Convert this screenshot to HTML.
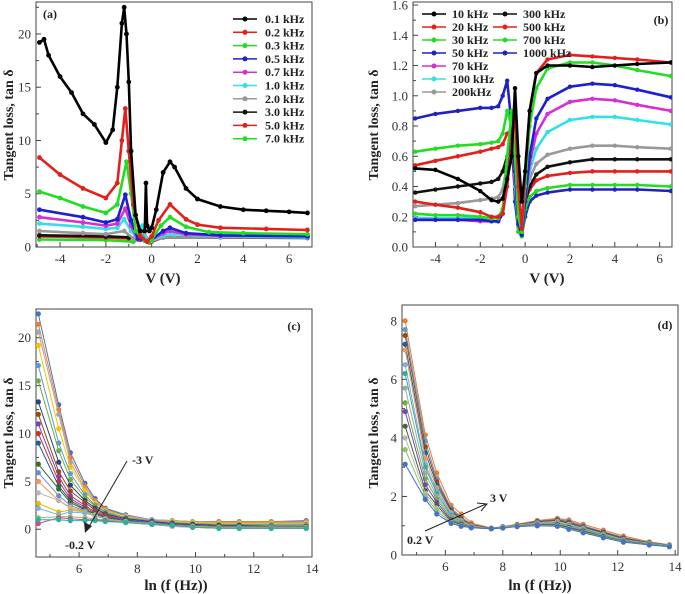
<!DOCTYPE html>
<html><head><meta charset="utf-8"><style>
html,body{margin:0;padding:0;background:#fff;}
svg{display:block;font-family:"Liberation Serif",serif;}
</style></head><body>
<svg id="fig" width="685" height="594" viewBox="0 0 685 594" xmlns="http://www.w3.org/2000/svg"></svg>
<script>
// ---------- Panel (a) data ----------
const aNames = ["0.1 kHz","0.2 kHz","0.3 kHz","0.5 kHz","0.7 kHz","1.0 kHz","2.0 kHz","3.0 kHz","5.0 kHz","7.0 kHz"];
const aColors = ["#000000","#e3201b","#22dd22","#1f1fd0","#d52fd5","#33e0e6","#999999","#111111","#e3201b","#22dd22"];
const aV0 = [-4.9,-4.7,-4.5,-4,-3.5,-3,-2.5,-2,-1.7,-1.5,-1.3,-1.2,-1.1,-1,-0.9,-0.7,-0.5,-0.3,-0.25,-0.2,-0.1,0,0.2,0.5,0.8,1,1.5,2,3,4,5,6,6.8];
const aY0 = [19.2,19.5,18,16,14.5,12.5,11.5,9.8,11,15,21,22.5,20,15.5,9,3,1.5,1.5,6,2,1.5,1.8,3.5,7,8,7.5,5.5,4.5,3.8,3.5,3.4,3.3,3.2];
const aV1 = [-4.9,-4,-3,-2,-1.5,-1.3,-1.15,-1,-0.8,-0.5,-0.2,0,0.3,0.8,1.5,2,3,5,6.8];
const aY1 = [8.4,6.8,5.5,4.6,6,10,13,9,4,1,0.5,1,2.5,4,2.6,2.1,1.8,1.7,1.6];
const aV2 = [-4.9,-4,-3,-2,-1.5,-1.1,-0.9,-0.7,-0.3,0,0.4,0.8,1.5,2.5,4,6.8];
const aY2 = [5.2,4.6,3.8,3.2,4,8,5,1.5,0.6,0.7,2,2.8,1.9,1.4,1.3,1.2];
const aV3 = [-4.9,-3,-2,-1.5,-1.15,-0.9,-0.6,-0.3,0,0.5,0.8,1.5,3,6.8];
const aY3 = [3.5,2.8,2.3,2.6,4.9,2.5,0.8,0.6,0.7,1.5,1.8,1.3,1.1,1.0];
const aV4 = [-4.9,-3,-2,-1.5,-1.15,-0.9,-0.6,-0.3,0,0.5,0.8,1.5,3,6.8];
const aY4 = [2.8,2.3,2.0,2.2,3.6,2,0.7,0.6,0.7,1.3,1.5,1.2,1.05,1.0];
const aV5 = [-4.9,-3,-2,-1.5,-1.2,-0.9,-0.6,-0.4,-0.2,0,0.5,1,3,6.8];
const aY5 = [2.2,1.9,1.7,1.8,2.6,1.5,0.7,2.0,0.7,0.6,1.1,1.2,1.0,0.9];
const aV6 = [-4.9,-3,-2,-1.2,-0.8,-0.4,0,0.5,3,6.8];
const aY6 = [1.5,1.3,1.2,1.5,0.8,1.2,0.6,0.9,0.9,0.9];
const aV7 = [-4.9,-2,-1,-0.5,0,0.5,6.8];
const aY7 = [1.1,1.0,0.9,0.7,0.6,0.9,0.85];
const aV8 = [-4.9,-2,-1,-0.4,0,0.5,6.8];
const aY8 = [1.0,0.9,0.8,1.0,0.5,0.9,1.0];
const aV9 = [-4.9,-2,-0.8,-0.4,-0.1,0.5,6.8];
const aY9 = [0.7,0.65,0.5,1.0,0.4,0.9,1.1];
const aXTicks = [-4,-2,0,2,4,6];
const aYTicks = [0,5,10,15,20];

// ---------- Panel (b) data ----------
const bNames = ["10 kHz","20 kHz","30 kHz","50 kHz","70 kHz","100 kHz","200kHz","300 kHz","500 kHz","700 kHz","1000 kHz"];
const bColors = ["#000000","#e3201b","#22dd22","#1f1fd0","#d52fd5","#33e0e6","#999999","#111111","#e3201b","#22dd22","#2222bb"];
const bV = [-4.9,-4,-3,-2,-1.5,-1.2,-1.0,-0.8,-0.6,-0.45,-0.3,-0.15,0,0.2,0.5,1,2,3,4,5,6.5];
const bY0 = [0.52,0.51,0.45,0.37,0.31,0.30,0.32,0.45,0.6,1.05,0.6,0.3,0.5,0.9,1.15,1.2,1.2,1.19,1.2,1.21,1.22];
const bY1 = [0.30,0.28,0.26,0.23,0.20,0.20,0.22,0.4,0.7,0.9,0.4,0.12,0.5,0.9,1.15,1.24,1.27,1.26,1.25,1.24,1.22];
const bY2 = [0.22,0.21,0.21,0.20,0.19,0.19,0.25,0.6,0.9,0.6,0.2,0.1,0.4,0.8,1.05,1.18,1.22,1.22,1.2,1.17,1.13];
const bY3 = [0.18,0.18,0.18,0.18,0.17,0.17,0.22,0.5,0.8,0.5,0.15,0.08,0.3,0.6,0.85,0.98,1.06,1.08,1.07,1.04,0.99];
const bY4 = [0.18,0.18,0.18,0.17,0.17,0.17,0.22,0.5,0.75,0.45,0.15,0.1,0.3,0.55,0.75,0.88,0.96,0.98,0.97,0.94,0.9];
const bY5 = [0.19,0.19,0.19,0.19,0.19,0.2,0.25,0.5,0.8,0.4,0.15,0.12,0.3,0.5,0.65,0.76,0.84,0.86,0.86,0.84,0.81];
const bY6 = [0.27,0.28,0.29,0.31,0.32,0.33,0.38,0.55,0.75,0.5,0.2,0.15,0.35,0.45,0.55,0.61,0.65,0.67,0.67,0.66,0.65];
const bY7 = [0.36,0.38,0.40,0.42,0.43,0.45,0.5,0.6,0.65,0.4,0.15,0.1,0.3,0.4,0.48,0.53,0.56,0.58,0.58,0.58,0.58];
const bY8 = [0.54,0.57,0.60,0.63,0.65,0.66,0.68,0.75,0.78,0.5,0.15,0.1,0.3,0.38,0.44,0.47,0.49,0.5,0.5,0.5,0.5];
const bY9 = [0.63,0.65,0.67,0.68,0.69,0.7,0.75,0.9,0.8,0.4,0.1,0.07,0.25,0.33,0.37,0.39,0.41,0.41,0.41,0.41,0.4];
const bY10 = [0.85,0.88,0.90,0.92,0.92,0.93,1.0,1.1,0.8,0.3,0.1,0.08,0.2,0.3,0.34,0.36,0.38,0.38,0.38,0.38,0.37];
const bXTicks = [-4,-2,0,2,4,6];
const bYTicks = [0,0.2,0.4,0.6,0.8,1.0,1.2,1.4,1.6];

// ---------- Panel (c) data ----------
const cX = [4.6,5.3,5.7,6.2,6.55,6.9,7.6,8.5,9.2,9.9,10.8,11.5,12.6,13.8];
const cS = [
 [22.5,13,8,4.8,3.2,2.2,1.5,1.0,0.9,0.8,0.8,0.8,0.8,0.9],
 [21.4,12.5,7.5,4.5,3,2.1,1.4,1.0,0.9,0.8,0.8,0.8,0.8,0.8],
 [20.6,12,7,4.2,2.8,2,1.4,1,0.9,0.8,0.7,0.7,0.7,0.7],
 [19.2,10.5,6.5,4,2.7,1.9,1.3,0.9,0.8,0.7,0.6,0.6,0.6,0.6],
 [17.1,9,5.8,3.6,2.5,1.8,1.2,0.9,0.7,0.6,0.5,0.5,0.5,0.5],
 [15.5,8.2,5.2,3.3,2.4,1.7,1.2,0.8,0.7,0.6,0.5,0.5,0.4,0.4],
 [13.3,7,4.6,3,2.2,1.6,1.1,0.8,0.6,0.5,0.4,0.4,0.3,0.3],
 [12,6,4,2.8,2,1.5,1,0.7,0.5,0.4,0.3,0.3,0.3,0.3],
 [11,5.5,3.5,2.5,1.8,1.4,1,0.7,0.5,0.4,0.3,0.3,0.2,0.2],
 [10,5,3.2,2.3,1.7,1.3,0.9,0.6,0.4,0.3,0.3,0.2,0.2,0.2],
 [9,4.5,3,2.1,1.6,1.2,0.9,0.6,0.4,0.3,0.2,0.2,0.2,0.2],
 [6.8,4.2,2.8,2,1.5,1.2,0.8,0.5,0.3,0.3,0.2,0.2,0.1,0.1],
 [5.9,3.5,2.5,1.9,1.5,1.1,0.8,0.5,0.3,0.2,0.2,0.1,0.1,0.1],
 [5,3,2.3,1.8,1.4,1.1,0.8,0.5,0.3,0.2,0.2,0.1,0.1,0.1],
 [3.8,3.0,2.2,1.7,1.4,1.1,0.8,0.5,0.3,0.2,0.1,0.1,0.1,0.1],
 [2.7,1.8,2.0,1.8,1.5,1.1,0.8,0.6,0.4,0.3,0.2,0.2,0.2,0.2],
 [2.2,1.5,1.8,1.7,1.4,1.1,0.8,0.6,0.4,0.3,0.2,0.2,0.2,0.2],
 [1.2,1.3,1.3,1.2,1.1,1.0,0.8,0.6,0.4,0.3,0.2,0.2,0.1,0.1],
 [0.6,1.2,1.1,1.0,1.0,0.9,0.7,0.5,0.4,0.2,0.1,0.1,0.1,0.1],
 [1.0,1.0,0.9,0.9,0.9,0.8,0.7,0.5,0.4,0.2,0.1,0.1,0.1,0.1]
];
const cXTicks = [6,8,10,12,14];
const cYTicks = [0,5,10,15,20];

// ---------- Panel (d) data ----------
const dX = [4.6,5.3,5.7,6.2,6.55,6.9,7.6,8.0,8.5,9.2,9.9,10.3,10.8,11.5,12.2,13.1,13.8];
const dS = [
 [8.0,4.1,2.8,1.7,1.4,1.1,0.92,0.97,1.05,1.18,1.25,1.2,1.05,0.85,0.65,0.45,0.35],
 [7.7,3.9,2.6,1.6,1.3,1.05,0.92,0.96,1.04,1.16,1.22,1.16,1.0,0.8,0.6,0.43,0.34],
 [7.5,3.7,2.5,1.55,1.25,1.03,0.91,0.96,1.03,1.14,1.2,1.12,0.97,0.78,0.58,0.42,0.33],
 [7.2,3.5,2.4,1.5,1.2,1.0,0.91,0.95,1.02,1.12,1.17,1.08,0.94,0.75,0.55,0.41,0.33],
 [7.0,3.3,2.3,1.45,1.18,1.0,0.9,0.95,1.02,1.1,1.15,1.05,0.92,0.72,0.53,0.4,0.32],
 [6.5,3.1,2.2,1.4,1.15,0.98,0.9,0.95,1.01,1.08,1.12,1.02,0.9,0.7,0.52,0.39,0.32],
 [6.2,3.0,2.1,1.35,1.12,0.97,0.9,0.94,1.0,1.06,1.1,1.0,0.88,0.68,0.5,0.38,0.31],
 [5.7,2.8,2.0,1.3,1.1,0.96,0.9,0.94,1.0,1.05,1.08,0.98,0.86,0.66,0.49,0.37,0.31],
 [5.2,2.6,1.9,1.25,1.08,0.95,0.9,0.94,1.0,1.04,1.06,0.96,0.84,0.65,0.48,0.37,0.3],
 [4.9,2.4,1.8,1.2,1.05,0.95,0.9,0.93,0.99,1.03,1.04,0.94,0.82,0.63,0.47,0.36,0.3],
 [4.4,2.2,1.7,1.15,1.03,0.94,0.9,0.93,0.99,1.02,1.02,0.92,0.8,0.62,0.46,0.36,0.3],
 [4.0,2.1,1.6,1.12,1.0,0.94,0.9,0.93,0.98,1.01,1.0,0.9,0.78,0.6,0.45,0.35,0.29],
 [3.6,2.0,1.5,1.1,1.0,0.93,0.9,0.93,0.98,1.0,0.99,0.89,0.77,0.6,0.44,0.35,0.29],
 [3.1,1.9,1.4,1.08,0.98,0.93,0.9,0.92,0.97,1.0,0.98,0.88,0.76,0.59,0.44,0.34,0.28]
];
const dXTicks = [6,8,10,12,14];
const dYTicks = [0,2,4,6,8];

const palette = ["#4472c4","#ed7d31","#a5a5a5","#ffc000","#5b9bd5","#70ad47","#264478","#9e480e","#7f3fbf","#c0392b","#255e91","#43682b","#698ed0","#f1975a","#b7b7b7","#e6b800","#7cafdd","#8cc168","#d04a8c","#2bb0a0"];

const NS = "http://www.w3.org/2000/svg";
const svg = document.getElementById("fig");
function el(tag, attrs, parent){
  const e = document.createElementNS(NS, tag);
  for (const k in attrs) e.setAttribute(k, attrs[k]);
  (parent||svg).appendChild(e);
  return e;
}
function makeScale(d0,d1,r0,r1){ return v => r0 + (v-d0)/(d1-d0)*(r1-r0); }

function panel(cfg){
  const g = el("g", {});
  
  
  const sx = makeScale(cfg.xd[0], cfg.xd[1], cfg.L, cfg.R);
  const sy = makeScale(cfg.yd[0], cfg.yd[1], cfg.B, cfg.T);
  const box = el("rect", {x:cfg.L, y:cfg.T, width:cfg.R-cfg.L, height:cfg.B-cfg.T, fill:"none", stroke:"#444", "stroke-width":1}, g);
  
  
  cfg.xticks.forEach((t,i) => {
    const x = sx(t);
    el("line", {x1:x, x2:x, y1:cfg.B, y2:cfg.B-5, stroke:"#444"}, g);
    const lb = el("text", {x:x, y:cfg.B+16, "text-anchor":"middle", "font-size":13, fill:"#333"}, g);
    lb.textContent = (t<0?"-"+Math.abs(t):t);
    
    
    const m = sx(t + cfg.xminor);
    if (m < cfg.R) el("line", {x1:m, x2:m, y1:cfg.B, y2:cfg.B-3, stroke:"#444"}, g);
    const m2 = sx(t - cfg.xminor);
    if (m2 > cfg.L && i===0) el("line", {x1:m2, x2:m2, y1:cfg.B, y2:cfg.B-3, stroke:"#444"}, g);
  });
  cfg.yticks.forEach(t => {
    const y = sy(t);
    el("line", {x1:cfg.L, x2:cfg.L+5, y1:y, y2:y, stroke:"#444"}, g);
    const lb = el("text", {x:cfg.L-5, y:y+4.5, "text-anchor":"end", "font-size":13, fill:"#333"}, g);
    lb.textContent = cfg.yfmt(t);
    
    
    const m = sy(t + cfg.yminor);
    if (m > cfg.T) el("line", {x1:cfg.L, x2:cfg.L+3, y1:m, y2:m, stroke:"#444"}, g);
  });
  const xt = el("text", {x:cfg.xtx, y:cfg.xty, "text-anchor":"middle", "font-size":15, "font-weight":"bold", fill:"#222"}, g);
  xt.textContent = cfg.xtitle;
  
  
  const yt = el("text", {x:0, y:0, "text-anchor":"middle", "font-size":14, "font-weight":"bold", fill:"#222", transform:`translate(${cfg.ytx},${cfg.yty}) rotate(-90)`}, g);
  yt.textContent = "Tangent loss, tan δ";
  
  
  const pl = el("text", {x:cfg.plx, y:cfg.ply, "text-anchor":"middle", "font-size":12, "font-weight":"bold", fill:"#222"}, g);
  pl.textContent = cfg.plabel;
  
  
  return {g, sx, sy};
}

function series(p, xs, ys, color, name, lw, r, clip){
  const sg = el("g", {"clip-path":clip}, p.g);
  
  
  const pts = xs.map((x,i)=>p.sx(x).toFixed(1)+","+p.sy(ys[i]).toFixed(1)).join(" ");
  el("polyline", {points:pts, fill:"none", stroke:color, "stroke-width":lw, "stroke-linejoin":"round"}, sg);
  xs.forEach((x,i)=>{
    const c = el("circle", {cx:p.sx(x), cy:p.sy(ys[i]), r:r, fill:color}, sg);
    
    
  });
}

const defs = el("defs", {});
[["ca",36,2,276,245],["cb",413,2,259,245],["cc",36,309,276,248],["cd",402,305,276,250]].forEach(c=>{
  const cp = el("clipPath", {id:c[0]}, defs);
  el("rect", {x:c[1], y:c[2], width:c[3], height:c[4]}, cp);
});

// ---- Panel a ----
const pa = panel({name:"panel-a", L:36, R:312, T:2, B:247, xd:[-5.05,7], yd:[0,23], xticks:aXTicks, yticks:aYTicks, xminor:1, yminor:2.5,
  yfmt:t=>String(t), xtitle:"V (V)", xtx:163, xty:283, ytx:13, yty:125, plabel:"(a)", plx:50, ply:18});
const aVs=[aV0,aV1,aV2,aV3,aV4,aV5,aV6,aV7,aV8,aV9], aYs=[aY0,aY1,aY2,aY3,aY4,aY5,aY6,aY7,aY8,aY9];
for (let i=aVs.length-1;i>=0;i--) series(pa, aVs[i], aYs[i], aColors[i], "series-"+aNames[i].replace(/[ .]/g,"-"), 2.6, 2.4, "url(#ca)");
aNames.forEach((n,i)=>{
  const y = 19 + i*13.3;
  const lg = el("g", {}, pa.g);
  
  
  el("line", {x1:233, x2:257, y1:y, y2:y, stroke:aColors[i], "stroke-width":1.5}, lg);
  el("circle", {cx:245, cy:y, r:2.5, fill:aColors[i]}, lg);
  const t = el("text", {x:265, y:y+4, "font-size":12, "font-weight":"bold", fill:"#222"}, lg);
  t.textContent = n;
});

// ---- Panel b ----
const pb = panel({name:"panel-b", L:413, R:672, T:2, B:247, xd:[-5,6.55], yd:[0,1.62], xticks:bXTicks, yticks:bYTicks, xminor:1, yminor:0.1,
  yfmt:t=>t.toFixed(1), xtitle:"V (V)", xtx:547, xty:283, ytx:378, yty:125, plabel:"(b)", plx:661, ply:24});
const bYs=[bY0,bY1,bY2,bY3,bY4,bY5,bY6,bY7,bY8,bY9,bY10];
for (let i=bYs.length-1;i>=0;i--) series(pb, bV, bYs[i], bColors[i], "series-"+bNames[i].replace(/[ .]/g,"-"), 2.6, 2.2, "url(#cb)");
bNames.forEach((n,i)=>{
  const col = i<7?0:1, row = i<7?i:i-7;
  const y = 14 + row*13;
  const x1 = col?493:422, tx = col?523:452;
  const lg = el("g", {}, pb.g);
  
  
  el("line", {x1:x1, x2:x1+24, y1:y, y2:y, stroke:bColors[i], "stroke-width":1.5}, lg);
  el("circle", {cx:x1+12, cy:y, r:2.5, fill:bColors[i]}, lg);
  const t = el("text", {x:tx, y:y+4, "font-size":12, "font-weight":"bold", fill:"#222"}, lg);
  t.textContent = n;
});

// ---- Panel c ----
const pc = panel({name:"panel-c", L:36, R:312, T:309, B:557, xd:[4.52,14], yd:[-2.9,23], xticks:cXTicks, yticks:cYTicks, xminor:1, yminor:2.5,
  yfmt:t=>String(t), xtitle:"ln (f (Hz))", xtx:176, xty:590, ytx:13, yty:433, plabel:"(c)", plx:294, ply:330});
cS.forEach((s,i)=> series(pc, cX, s, palette[i%palette.length], "series-c-"+(i+1), 1, 2.6, "url(#cc)"));

// ---- Panel d ----
const pd = panel({name:"panel-d", L:402, R:678, T:305, B:555, xd:[4.49,14.1], yd:[0,8.54], xticks:dXTicks, yticks:dYTicks, xminor:1, yminor:1,
  yfmt:t=>String(t), xtitle:"ln (f (Hz))", xtx:540, xty:590, ytx:378, yty:433, plabel:"(d)", plx:665, ply:329});
dS.forEach((s,i)=> series(pd, dX, s, palette[(i*3+1)%palette.length], "series-d-"+(i+1), 1, 2.6, "url(#cd)"));

// ---- arrows & annotations ----
const ac = el("g", {});


el("line", {x1:127, y1:461, x2:87, y2:530, stroke:"#222", "stroke-width":1}, ac);
el("polygon", {points:"85,533 84,522 92,526", fill:"#222"}, ac);
let t1 = el("text", {x:132, y:464, "font-size":12, "font-weight":"bold", fill:"#222"}, ac); t1.textContent="-3 V";
let t2 = el("text", {x:65, y:549, "font-size":12, "font-weight":"bold", fill:"#222"}, ac); t2.textContent="-0.2 V";
const ad = el("g", {});


el("line", {x1:425, y1:531, x2:486, y2:504, stroke:"#222", "stroke-width":1}, ad);
el("polyline", {points:"477,503 487,504 481,511", fill:"none", stroke:"#222", "stroke-width":1}, ad);
let t3 = el("text", {x:490, y:502, "font-size":12, "font-weight":"bold", fill:"#222"}, ad); t3.textContent="3 V";
let t4 = el("text", {x:407, y:544, "font-size":12, "font-weight":"bold", fill:"#222"}, ad); t4.textContent="0.2 V";
</script>
</body></html>
